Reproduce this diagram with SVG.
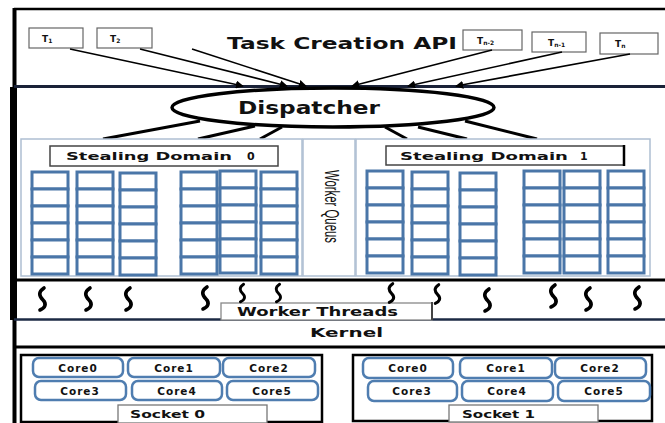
<svg xmlns="http://www.w3.org/2000/svg" xmlns:xlink="http://www.w3.org/1999/xlink" width="665" height="423" viewBox="0 0 665 423">
<style>
.b{font-family:"DejaVu Sans",Verdana,sans-serif;font-weight:bold;fill:#111}
.cell{fill:#fff;stroke:#4a76a8;stroke-width:3}
.core{fill:#fff;stroke:#4f7db0;stroke-width:2.5}
.tbox{fill:#fff;stroke:#666;stroke-width:1.2}
.tl{stroke:#000;stroke-width:1.6;fill:none}
.dl{stroke:#000;stroke-width:3;fill:none}
.sq{fill:none;stroke:#000;stroke-width:3.6;stroke-linecap:round}
</style>
<defs>
<marker id="ah" viewBox="0 0 10 10" refX="9" refY="5" markerWidth="5" markerHeight="5" orient="auto">
<path d="M0,0 L10,5 L0,10 z" fill="#000"/>
</marker>
<g id="col">
<rect class="cell" x="0" y="0" width="36" height="17"/>
<rect class="cell" x="0" y="17" width="36" height="17"/>
<rect class="cell" x="0" y="34" width="36" height="17"/>
<rect class="cell" x="0" y="51" width="36" height="17"/>
<rect class="cell" x="0" y="68" width="36" height="17"/>
<rect class="cell" x="0" y="85" width="36" height="17"/>
</g>
<path id="sq" class="sq" d="M2,-11 C-4,-7 -3,-3 1,1 C5,5 3,9 -2,11"/>
</defs>
<rect width="665" height="423" fill="#fff"/>

<g id="frame">
<line x1="14" y1="9" x2="665" y2="9" stroke="#000" stroke-width="2.5"/>
<line x1="14.5" y1="8" x2="14.5" y2="423" stroke="#000" stroke-width="4"/>
<rect x="10" y="87" width="7" height="233" fill="#000"/>
<line x1="14" y1="86.5" x2="665" y2="86.5" stroke="#1a2238" stroke-width="3"/>
<line x1="14" y1="280" x2="665" y2="280" stroke="#000" stroke-width="3"/>
<line x1="14" y1="319.5" x2="665" y2="319.5" stroke="#1c2a44" stroke-width="2.5"/>
<line x1="14" y1="347" x2="665" y2="347" stroke="#000" stroke-width="3"/>
</g>

<g id="task-api">
<text class="b" x="227" y="49" font-size="15" textLength="230" lengthAdjust="spacingAndGlyphs">Task Creation API</text>
</g>

<g id="t1"><rect class="tbox" x="29" y="28" width="54" height="20"/><text class="b" x="42" y="42" font-size="9">T<tspan font-size="6" dy="1">1</tspan></text></g>
<g id="t2"><rect class="tbox" x="97" y="28" width="55" height="20"/><text class="b" x="110" y="42" font-size="9">T<tspan font-size="6" dy="1">2</tspan></text></g>
<g id="tn2"><rect class="tbox" x="463" y="30" width="59" height="20"/><text class="b" x="477" y="44" font-size="9">T<tspan font-size="6" dy="1">n-2</tspan></text></g>
<g id="tn1"><rect class="tbox" x="532" y="32" width="54" height="20"/><text class="b" x="548" y="46" font-size="9">T<tspan font-size="6" dy="1">n-1</tspan></text></g>
<g id="tn"><rect class="tbox" x="600" y="33" width="58" height="21"/><text class="b" x="615" y="47" font-size="9">T<tspan font-size="6" dy="1">n</tspan></text></g>

<g id="connectors">
<line class="tl" x1="70" y1="49" x2="243" y2="86" marker-end="url(#ah)"/>
<line class="tl" x1="140" y1="49" x2="287" y2="86" marker-end="url(#ah)"/>
<line class="tl" x1="192" y1="49" x2="306" y2="86" marker-end="url(#ah)"/>
<line class="tl" x1="492" y1="50" x2="352" y2="86" marker-end="url(#ah)"/>
<line class="tl" x1="562" y1="52" x2="408" y2="86" marker-end="url(#ah)"/>
<line class="tl" x1="630" y1="54" x2="456" y2="86" marker-end="url(#ah)"/>
<line class="dl" x1="200" y1="121" x2="103" y2="139"/>
<line class="dl" x1="255" y1="126" x2="198" y2="139"/>
<line class="dl" x1="282" y1="127" x2="260" y2="139"/>
<line class="dl" x1="385" y1="127" x2="407" y2="139"/>
<line class="dl" x1="418" y1="127" x2="467" y2="139"/>
<line class="dl" x1="465" y1="121" x2="537" y2="139"/>
</g>

<g id="dispatcher">
<ellipse cx="333" cy="107.5" rx="161" ry="19.5" fill="#fff" stroke="#000" stroke-width="3.5"/>
<text class="b" x="238" y="114" font-size="17" textLength="142" lengthAdjust="spacingAndGlyphs">Dispatcher</text>
</g>

<g id="domain0">
<rect x="21" y="139" width="281" height="137" fill="#fff" stroke="#aebfd2" stroke-width="1.5"/>
<rect x="50" y="146" width="228" height="20" fill="#fff" stroke="#444" stroke-width="1.5"/>
<text class="b" x="66" y="160" font-size="11"><tspan textLength="166" lengthAdjust="spacingAndGlyphs">Stealing Domain</tspan> <tspan x="247">0</tspan></text>
<use xlink:href="#col" x="32" y="172"/>
<use xlink:href="#col" x="77" y="172"/>
<use xlink:href="#col" x="120" y="173"/>
<use xlink:href="#col" x="181" y="172"/>
<use xlink:href="#col" x="220" y="171"/>
<use xlink:href="#col" x="261" y="172"/>
</g>

<g id="worker-queues">
<rect x="303" y="139" width="52" height="137" fill="#fff" stroke="#aebfd2" stroke-width="1.5"/>
<text x="325" y="170" font-family="Liberation Sans,Arial,sans-serif" font-size="20" fill="#111" transform="rotate(90 325 170)" textLength="73" lengthAdjust="spacingAndGlyphs">Worker Queus</text>
</g>

<g id="domain1">
<rect x="356" y="139" width="294" height="137" fill="#fff" stroke="#aebfd2" stroke-width="1.5"/>
<rect x="386" y="146" width="238" height="19" fill="#fff" stroke="#444" stroke-width="1.5"/>
<line x1="624" y1="145" x2="624" y2="166" stroke="#000" stroke-width="2.5"/>
<text class="b" x="400" y="160" font-size="11"><tspan textLength="168" lengthAdjust="spacingAndGlyphs">Stealing Domain</tspan> <tspan x="580">1</tspan></text>
<use xlink:href="#col" x="367" y="171"/>
<use xlink:href="#col" x="412" y="172"/>
<use xlink:href="#col" x="460" y="173"/>
<use xlink:href="#col" x="524" y="171"/>
<use xlink:href="#col" x="564" y="171"/>
<use xlink:href="#col" x="608" y="171"/>
</g>

<g id="worker-threads">
<rect x="221" y="303" width="211" height="17" fill="#fff" stroke="#888" stroke-width="1.3"/>
<line x1="432" y1="302" x2="432" y2="320" stroke="#444" stroke-width="2"/>
<text class="b" x="237" y="316" font-size="12" textLength="161" lengthAdjust="spacingAndGlyphs">Worker Threads</text>
<use xlink:href="#sq" transform="translate(42,299)"/>
<use xlink:href="#sq" transform="translate(88,299)"/>
<use xlink:href="#sq" transform="translate(128,299)"/>
<use xlink:href="#sq" transform="translate(205,298)"/>
<use xlink:href="#sq" transform="translate(242,293) scale(0.8)"/>
<use xlink:href="#sq" transform="translate(278,293) scale(0.8)"/>
<use xlink:href="#sq" transform="translate(391,293) scale(0.85)"/>
<use xlink:href="#sq" transform="translate(437,294) scale(0.85)"/>
<use xlink:href="#sq" transform="translate(487,300)"/>
<use xlink:href="#sq" transform="translate(553,296)"/>
<use xlink:href="#sq" transform="translate(588,299)"/>
<use xlink:href="#sq" transform="translate(637,298)"/>
</g>

<g id="kernel">
<text class="b" x="310" y="337" font-size="13" textLength="73" lengthAdjust="spacingAndGlyphs">Kernel</text>
</g>

<g id="socket0">
<rect x="21" y="355" width="301" height="67" fill="#fff" stroke="#000" stroke-width="2.5"/>
<rect class="core" x="33" y="358" width="90" height="19" rx="6"/>
<rect class="core" x="128" y="358" width="92" height="19" rx="6"/>
<rect class="core" x="223" y="358" width="92" height="19" rx="6"/>
<rect class="core" x="35" y="381" width="91" height="19" rx="6"/>
<rect class="core" x="132" y="381" width="90" height="19" rx="6"/>
<rect class="core" x="227" y="381" width="91" height="19" rx="6"/>
<g class="b" font-size="10.5" letter-spacing="1" text-anchor="middle">
<text x="78" y="372">Core0</text>
<text x="174" y="372">Core1</text>
<text x="269" y="372">Core2</text>
<text x="80" y="395">Core3</text>
<text x="177" y="395">Core4</text>
<text x="272" y="395">Core5</text>
</g>
<rect x="118" y="405" width="149" height="18" fill="#fff" stroke="#777" stroke-width="1.3"/>
<text class="b" x="130" y="418" font-size="11" textLength="75" lengthAdjust="spacingAndGlyphs">Socket 0</text>
</g>

<g id="socket1">
<rect x="353" y="355" width="299" height="66" fill="#fff" stroke="#000" stroke-width="2.5"/>
<rect class="core" x="363" y="358" width="90" height="20" rx="6"/>
<rect class="core" x="460" y="358" width="92" height="20" rx="6"/>
<rect class="core" x="555" y="358" width="91" height="20" rx="6"/>
<rect class="core" x="368" y="381" width="89" height="20" rx="6"/>
<rect class="core" x="462" y="381" width="91" height="20" rx="6"/>
<rect class="core" x="558" y="381" width="92" height="20" rx="6"/>
<g class="b" font-size="10.5" letter-spacing="1" text-anchor="middle">
<text x="408" y="372">Core0</text>
<text x="506" y="372">Core1</text>
<text x="600" y="372">Core2</text>
<text x="412" y="395">Core3</text>
<text x="507" y="395">Core4</text>
<text x="604" y="395">Core5</text>
</g>
<rect x="449" y="405" width="149" height="17" fill="#fff" stroke="#777" stroke-width="1.3"/>
<text class="b" x="462" y="418" font-size="11" textLength="73" lengthAdjust="spacingAndGlyphs">Socket 1</text>
</g>
</svg>
